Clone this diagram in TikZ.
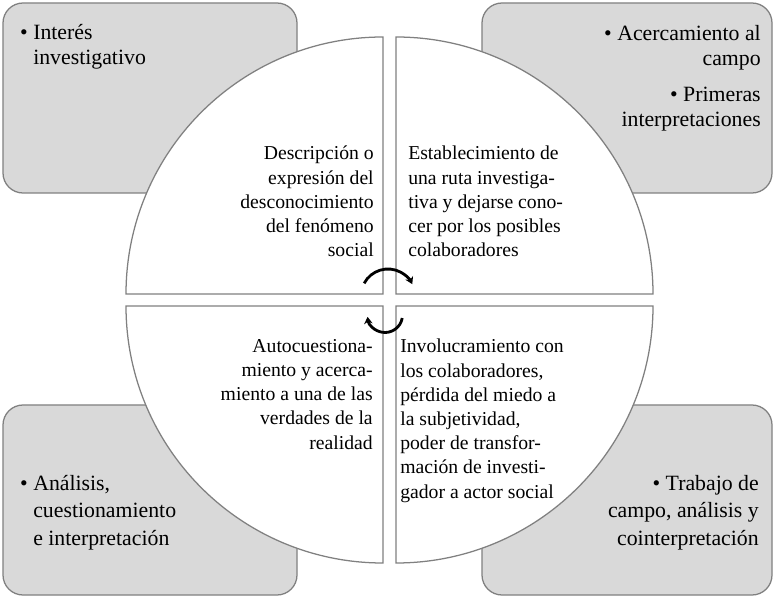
\documentclass[tikz,border=0pt]{standalone}
\usepackage{fontspec}
\setmainfont{Liberation Serif}
\usetikzlibrary{arrows.meta}
\definecolor{boxgray}{HTML}{D9D9D9}
\definecolor{framegray}{HTML}{808080}
\begin{document}
\begin{tikzpicture}[x=0.025cm, y=0.025cm,
    corner/.style = {draw=framegray, fill=boxgray, line width=0.9pt, rounded corners=0.5cm},
    quarter/.style = {draw=framegray, fill=white, line width=0.9pt},
    quartertext/.style = {font=\fontsize{14}{17.2}\selectfont, inner sep=0pt},
    boxtext/.style = {font=\fontsize{15.5}{17.7}\selectfont, inner sep=0pt},
    boxtextlow/.style = {font=\fontsize{15.5}{19.5}\selectfont, inner sep=0pt},
    turn/.style = {line width=2pt, -{Stealth[length=5pt,width=6pt]}}]
    \useasboundingbox (0,0) rectangle (774,598);
    % corner boxes
    \draw[corner] (3,405) rectangle (297,595);
    \draw[corner] (482,405) rectangle (772,595);
    \draw[corner] (3,3) rectangle (297,193);
    \draw[corner] (482,3) rectangle (772,193);
    % quarters of the circle
    \draw[quarter] (383,304) -- ++(-257,0) arc[start angle=180, end angle=90, radius=257] -- cycle;
    \draw[quarter] (396,304) -- ++(0,257) arc[start angle=90, end angle=0, radius=257] -- cycle;
    \draw[quarter] (383,292) -- ++(-257,0) arc[start angle=180, end angle=270, radius=257] -- cycle;
    \draw[quarter] (396,292) -- ++(257,0) arc[start angle=0, end angle=-90, radius=257] -- cycle;
    % turning arrows
    \coordinate (topturn) at (388,302);
    \coordinate (lowturn) at (385,283);
    \draw[turn] ([shift={(152:27)}]topturn) arc[start angle=152, end angle=26, radius=27];
    \draw[turn] ([shift={(-10:17.5)}]lowturn) arc[start angle=-10, end angle=-174, radius=17.5];
    % texts of the quarters
    \node[quartertext, anchor=north east, align=right] (descripcion) at (374,452)
      {Descripción o\\expresión del\\desconocimiento\\del fenómeno\\social};
    \node[quartertext, anchor=north west, align=left] (ruta) at (408,452)
      {Establecimiento de\\una ruta investiga-\\tiva y dejarse cono-\\cer por los posibles\\colaboradores};
    \node[quartertext, anchor=north east, align=right] (autocuestion) at (373,259)
      {Autocuestiona-\\miento y acerca-\\miento a una de las\\verdades de la\\realidad};
    \node[quartertext, anchor=north west, align=left] (involucra) at (400,259)
      {Involucramiento con\\los colaboradores,\\pérdida del miedo a\\la subjetividad,\\poder de transfor-\\mación de investi-\\gador a actor social};
    % texts of the corner boxes
    \node[boxtext, anchor=north west, align=left] (interes) at (33,574)
      {\llap{\textbullet\ }Interés\\investigativo};
    \node[boxtext, anchor=north east, align=right] (acercamiento) at (761,573)
      {\textbullet\ Acercamiento al\\campo\\[8pt]\textbullet\ Primeras\\interpretaciones};
    \node[boxtextlow, anchor=north west, align=left] (analisis) at (33,123)
      {\llap{\textbullet\ }Análisis,\\cuestionamiento\\e interpretación};
    \node[boxtextlow, anchor=north east, align=right] (trabajo) at (759,123)
      {\textbullet\ Trabajo de\\campo, análisis y\\cointerpretación};
\end{tikzpicture}
\end{document}
